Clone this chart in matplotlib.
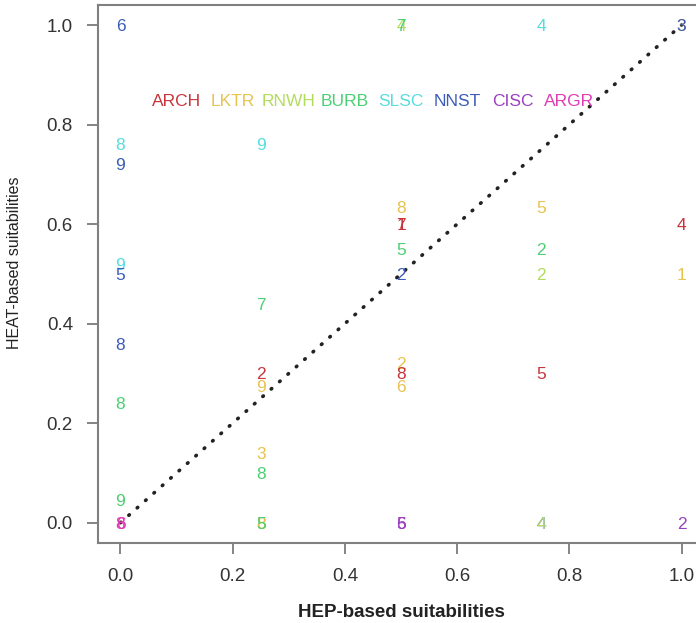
import matplotlib
matplotlib.use("Agg")
import matplotlib.pyplot as plt

plt.rcParams["font.family"] = ["Liberation Sans", "DejaVu Sans"]

# especies y su color
species = ["ARCH", "LKTR", "RNWH", "BURB", "SLSC", "NNST", "CISC", "ARGR"]
species_col = ["#c8343c", "#e8c350", "#b2dc5c", "#4ccf74", "#56dddd", "#3c5cb8", "#9b40c0", "#de3cb4"]
legend_x = [0.1, 0.2, 0.3, 0.4, 0.5, 0.6, 0.7, 0.8]
legend_y = 0.85

# cada punto: especie, sitio, idoneidad HEP, idoneidad HEAT
pt_species = ["NNST", "SLSC", "NNST", "SLSC", "NNST", "NNST", "BURB", "BURB", "ARGR", "ARGR",
              "SLSC", "BURB", "ARCH", "LKTR", "LKTR", "BURB", "RNWH", "LKTR", "BURB",
              "RNWH", "BURB", "LKTR", "ARCH", "ARCH", "BURB", "NNST", "LKTR", "ARCH", "LKTR",
              "CISC", "CISC",
              "SLSC", "LKTR", "BURB", "RNWH", "ARCH", "NNST", "RNWH",
              "LKTR", "NNST", "ARCH", "LKTR", "CISC"]
pt_site = ["6", "8", "9", "9", "5", "8", "8", "9", "6", "8",
           "9", "7", "2", "9", "3", "8", "8", "8", "5",
           "4", "7", "8", "1", "7", "5", "2", "2", "8", "6",
           "5", "6",
           "4", "5", "2", "2", "5", "4", "4",
           "3", "3", "4", "1", "2"]
pt_hep = [0, 0, 0, 0, 0, 0, 0, 0, 0, 0,
          0.25, 0.25, 0.25, 0.25, 0.25, 0.25, 0.25, 0.25, 0.25,
          0.5, 0.5, 0.5, 0.5, 0.5, 0.5, 0.5, 0.5, 0.5, 0.5,
          0.5, 0.5,
          0.75, 0.75, 0.75, 0.75, 0.75, 0.75, 0.75,
          1, 1, 1, 1, 1]
pt_heat = [1.0, 0.76, 0.72, 0.52, 0.50, 0.36, 0.24, 0.045, 0, 0,
           0.76, 0.44, 0.30, 0.275, 0.14, 0.10, 0, 0, 0,
           1.0, 1.0, 0.635, 0.60, 0.60, 0.55, 0.50, 0.32, 0.30, 0.275,
           0, 0,
           1.0, 0.635, 0.55, 0.50, 0.30, 0, 0,
           1.0, 1.0, 0.60, 0.50, 0]

fig = plt.figure(figsize=(6.96, 6.23), dpi=100)
ax = fig.add_axes([0.1408, 0.129, 0.8707, 0.8628])

# linea 1:1 punteada
ax.plot([0, 1], [0, 1], color="#222222", lw=2.6, linestyle=(0, (0.2, 2.9)),
        dash_capstyle="round", zorder=1)

for sp, s, x, y in zip(pt_species, pt_site, pt_hep, pt_heat):
    c = species_col[species.index(sp)]
    ax.text(x, y, s, color=c, fontsize=12.5, ha="center", va="center_baseline", zorder=2)

for sp, c, lx in zip(species, species_col, legend_x):
    ax.text(lx, legend_y, sp, color=c, fontsize=12.5, ha="center", va="center_baseline")

ax.set_xlim(-0.04, 1.04)
ax.set_ylim(-0.04, 1.04)
ticks = [0.0, 0.2, 0.4, 0.6, 0.8, 1.0]
ax.set_xticks(ticks)
ax.set_yticks(ticks)
ax.set_xticklabels(["%.1f" % t for t in ticks])
ax.set_yticklabels(["%.1f" % t for t in ticks])
ax.tick_params(direction="out", length=8, width=1.2, color="#707070",
               labelcolor="#333333", labelsize=13.5, pad=10)
for sp in ax.spines.values():
    sp.set_color("#808080")
    sp.set_linewidth(1.5)

ax.set_xlabel("HEP-based suitabilities", fontsize=13.5, fontweight="bold",
              color="#222222", labelpad=14)
ax.set_ylabel("HEAT-based suitabilities", fontsize=11.5, color="#222222")
ax.yaxis.set_label_coords(-0.125, 0.52)

fig.savefig("out.png", dpi=100)
